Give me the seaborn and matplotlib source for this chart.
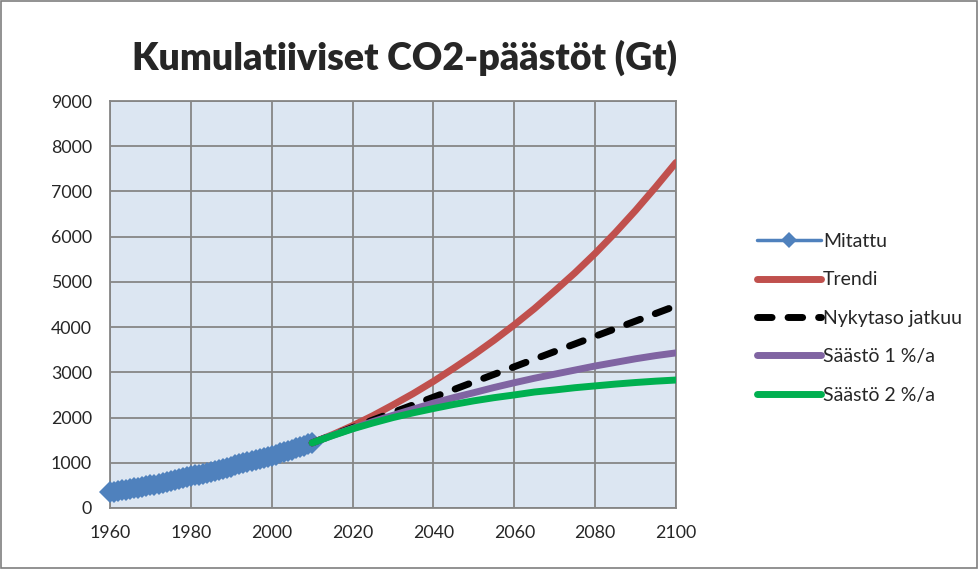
import matplotlib
matplotlib.use("Agg")
import matplotlib.pyplot as plt
import seaborn as sns
from matplotlib.patches import Rectangle

measured_years = list(range(1960, 2011))
measured_gt = [
    350, 363, 376, 390, 404, 419, 434, 450, 466, 483,
    500, 518, 536, 555, 574, 593, 613, 633, 654, 676,
    698, 719, 740, 761, 782, 804, 826, 848, 871, 894,
    917, 940, 963, 986, 1009, 1033, 1057, 1081, 1105, 1129,
    1154, 1180, 1206, 1233, 1261, 1290, 1320, 1351, 1382, 1413,
    1440,
]

# Scenario projections (Gt), every 5 years
scenario_years = [2010, 2015, 2020, 2025, 2030, 2035, 2040, 2045, 2050, 2055,
                  2060, 2065, 2070, 2075, 2080, 2085, 2090, 2095, 2100]
trend_gt = [1440, 1620, 1820, 2040, 2280, 2530, 2800, 3090, 3390, 3710,
            4050, 4410, 4800, 5200, 5630, 6090, 6580, 7100, 7640]
current_level_gt = [1440, 1608, 1777, 1945, 2113, 2282, 2450, 2618, 2787, 2955,
                    3123, 3292, 3460, 3628, 3797, 3965, 4133, 4302, 4470]
saving_1_gt = [1440, 1605, 1760, 1910, 2050, 2185, 2320, 2440, 2550, 2665,
               2770, 2870, 2960, 3050, 3140, 3220, 3300, 3370, 3430]
saving_2_gt = [1440, 1600, 1750, 1880, 2000, 2105, 2200, 2290, 2370, 2440,
               2500, 2565, 2610, 2660, 2700, 2740, 2775, 2805, 2830]

y_ticks = [0, 1000, 2000, 3000, 4000, 5000, 6000, 7000, 8000, 9000]
x_ticks = [1960, 1980, 2000, 2020, 2040, 2060, 2080, 2100]

sns.set_style("white")
plt.rcParams["font.family"] = ["Lato", "DejaVu Sans"]

fig = plt.figure(figsize=(9.79, 5.69), dpi=100)
ax = fig.add_axes([110 / 979, 1 - 508 / 569, 566 / 979, 407 / 569])
ax.set_facecolor("#dce6f2")

sns.lineplot(x=measured_years, y=measured_gt, ax=ax, color="#4f81bd", lw=2.5,
             marker="D", markersize=11, markeredgewidth=0, label="Mitattu",
             clip_on=False, zorder=3)
sns.lineplot(x=scenario_years, y=trend_gt, ax=ax, color="#c0504d", lw=5,
             solid_capstyle="round", label="Trendi", zorder=4)
sns.lineplot(x=scenario_years, y=current_level_gt, ax=ax, color="black", lw=5,
             linestyle=(0, (2.1, 2.3)), dash_capstyle="round",
             label="Nykytaso jatkuu", zorder=5)
sns.lineplot(x=scenario_years, y=saving_1_gt, ax=ax, color="#8064a2", lw=5,
             solid_capstyle="round", label="Säästö 1 %/a", zorder=6)
sns.lineplot(x=scenario_years, y=saving_2_gt, ax=ax, color="#00b050", lw=5,
             solid_capstyle="round", label="Säästö 2 %/a", zorder=7)

ax.set_xlim(1960, 2100)
ax.set_ylim(0, 9000)
ax.set_xticks(x_ticks)
ax.set_yticks(y_ticks)
ax.grid(True, color="#868686", lw=1.3)
ax.set_axisbelow(True)
for spine in ax.spines.values():
    spine.set_color("#868686")
    spine.set_linewidth(1.3)
ax.tick_params(axis="both", length=4, width=1.3, color="#868686",
               labelsize=12.8, direction="out")
ax.tick_params(axis="y", pad=9)
ax.tick_params(axis="x", pad=8)
ax.set_xlabel("")
ax.set_ylabel("")

leg = ax.legend(loc="upper left", bbox_to_anchor=(757 / 979, 1 - 233 / 569),
                bbox_transform=fig.transFigure, frameon=False, fontsize=14,
                handlelength=3.3, handletextpad=0.1, labelspacing=1.1,
                borderpad=0, borderaxespad=0, numpoints=1, markerscale=0.7)

fig.text(405 / 979, 1 - 58 / 569, "Kumulatiiviset CO2-päästöt (Gt)",
         ha="center", va="center", fontsize=27, fontweight="heavy")

fig.patches.append(Rectangle((0.001, 0.001), 0.997, 0.997, transform=fig.transFigure,
                             fill=False, edgecolor="#7f7f7f", lw=1.2))

fig.savefig("out.png", dpi=100)
